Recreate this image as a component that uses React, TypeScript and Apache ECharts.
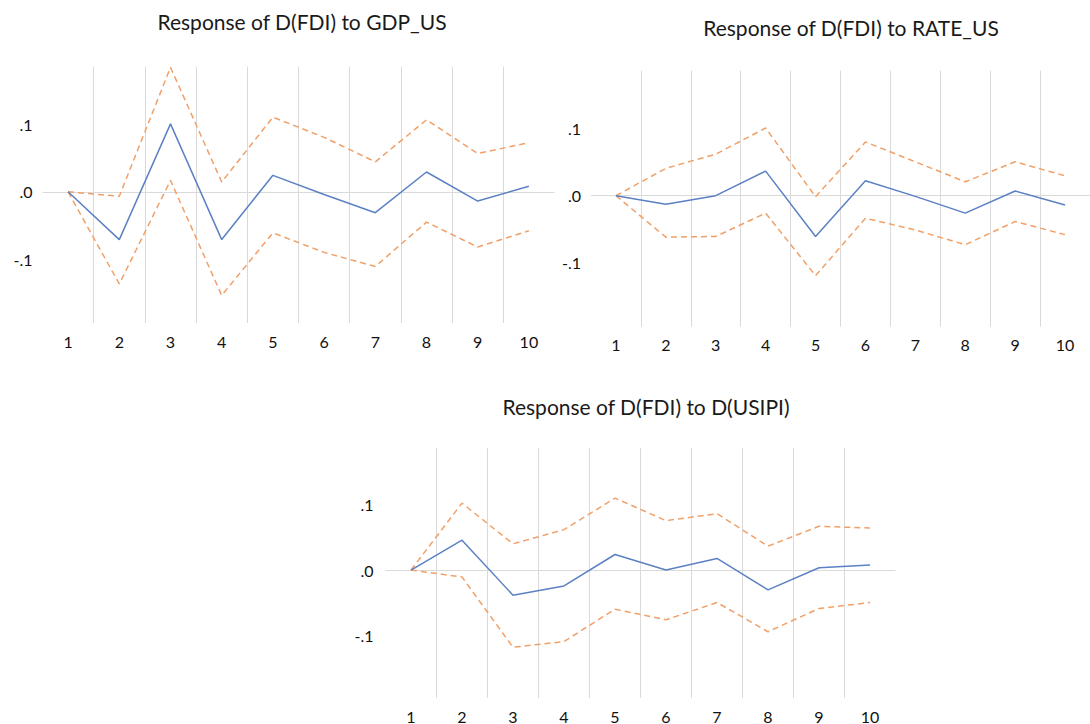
import React, { useEffect, useRef } from "react";
import * as echarts from "echarts";

const periods = ["1", "2", "3", "4", "5", "6", "7", "8", "9", "10"];
const yTickValues = [-0.1, 0, 0.1];

const titles = [
  "Response of D(FDI) to GDP_US",
  "Response of D(FDI) to RATE_US",
  "Response of D(FDI) to D(USIPI)",
];

const gdpResponse = [0, -0.071, 0.101, -0.071, 0.0245, -0.004, -0.031, 0.0295, -0.0137, 0.0082];
const gdpUpper = [0, -0.0067, 0.185, 0.0146, 0.111, 0.081, 0.0446, 0.107, 0.057, 0.073];
const gdpLower = [0, -0.137, 0.017, -0.154, -0.061, -0.09, -0.111, -0.045, -0.082, -0.058];

const rateResponse = [0, -0.0128, 0, 0.0366, -0.0607, 0.0222, -0.001, -0.026, 0.007, -0.0138];
const rateUpper = [0, 0.0406, 0.0618, 0.1007, -0.0015, 0.08, 0.0504, 0.0207, 0.0504, 0.0296];
const rateLower = [0, -0.0617, -0.0607, -0.026, -0.119, -0.0336, -0.051, -0.073, -0.0385, -0.058];

const usipiResponse = [0, 0.0455, -0.0384, -0.0242, 0.0237, 0, 0.0177, -0.0303, 0.0035, 0.0076];
const usipiUpper = [0, 0.102, 0.04, 0.0616, 0.1096, 0.0753, 0.0859, 0.0364, 0.0667, 0.0641];
const usipiLower = [0, -0.0106, -0.1177, -0.109, -0.0596, -0.0758, -0.0495, -0.094, -0.0586, -0.0495];

const panels = [
  { response: gdpResponse, upper: gdpUpper, lower: gdpLower },
  { response: rateResponse, upper: rateUpper, lower: rateLower },
  { response: usipiResponse, upper: usipiUpper, lower: usipiLower },
];

const FONT = "Lato, 'Open Sans', sans-serif";
const BLUE = "#5b80c3";
const ORANGE = "#f0a068";

export default function App() {
  const ref = useRef<HTMLDivElement>(null);
  useEffect(() => {
    document.body.style.margin = "0";
    const chart = echarts.init(ref.current!, null, { renderer: "svg" });
    const grids = [
      { left: 42.5, top: 66.7, width: 512, height: 256.3 },
      { left: 591, top: 70.7, width: 508, height: 256 },
      { left: 385.5, top: 448, width: 510, height: 251 },
    ];
    const titlePos = [
      { x: 297, y: 6 },
      { x: 846, y: 12 },
      { x: 641, y: 391 },
    ];
    const yMargins = [10, 10, 12];
    const option: any = {
      animation: false,
      backgroundColor: "#ffffff",
      title: titles.map((t, i) => ({
        text: t,
        left: titlePos[i].x,
        top: titlePos[i].y,
        textAlign: "center",
        textStyle: { fontFamily: FONT, fontSize: 21, fontWeight: "normal", color: "#1a1a1a" },
      })),
      grid: grids.map((g) => ({ ...g, containLabel: false })),
      xAxis: grids.map((_, i) => ({
        type: "category",
        gridIndex: i,
        data: periods,
        boundaryGap: true,
        axisLine: { show: false },
        axisTick: { show: false },
        axisLabel: {
          interval: 0,
          margin: 10,
          fontFamily: FONT,
          fontSize: 16,
          color: "#111111",
        },
        splitLine: {
          show: true,
          interval: 0,
          showMinLine: false,
          showMaxLine: false,
          lineStyle: { color: "#dadada", width: 1 },
        },
      })),
      yAxis: grids.map((_, i) => ({
        type: "value",
        gridIndex: i,
        min: -0.195,
        max: 0.186,
        axisLine: { show: false },
        axisTick: { show: false, customValues: yTickValues },
        axisLabel: {
          customValues: yTickValues,
          margin: yMargins[i],
          fontFamily: FONT,
          fontSize: 16,
          color: "#111111",
          formatter: (v: number) => v.toFixed(1).replace("0.", "."),
        },
        splitLine: {
          show: true,
          showMinLine: false,
          showMaxLine: false,
          lineStyle: { color: ["#dadada", "#a8a8a8", "#dadada"], width: 1 },
        },
      })),
      series: panels.flatMap((p, i) => [
        {
          type: "line",
          xAxisIndex: i,
          yAxisIndex: i,
          data: p.upper,
          symbol: "none",
          lineStyle: { color: ORANGE, width: 1.5, type: [6, 4] },
          z: 3,
        },
        {
          type: "line",
          xAxisIndex: i,
          yAxisIndex: i,
          data: p.lower,
          symbol: "none",
          lineStyle: { color: ORANGE, width: 1.5, type: [6, 4] },
          z: 3,
        },
        {
          type: "line",
          xAxisIndex: i,
          yAxisIndex: i,
          data: p.response,
          symbol: "none",
          lineStyle: { color: BLUE, width: 1.5 },
          z: 4,
        },
      ]),
    };
    chart.setOption(option);
    return () => chart.dispose();
  }, []);
  return <div ref={ref} style={{ width: 1090, height: 724 }} />;
}
